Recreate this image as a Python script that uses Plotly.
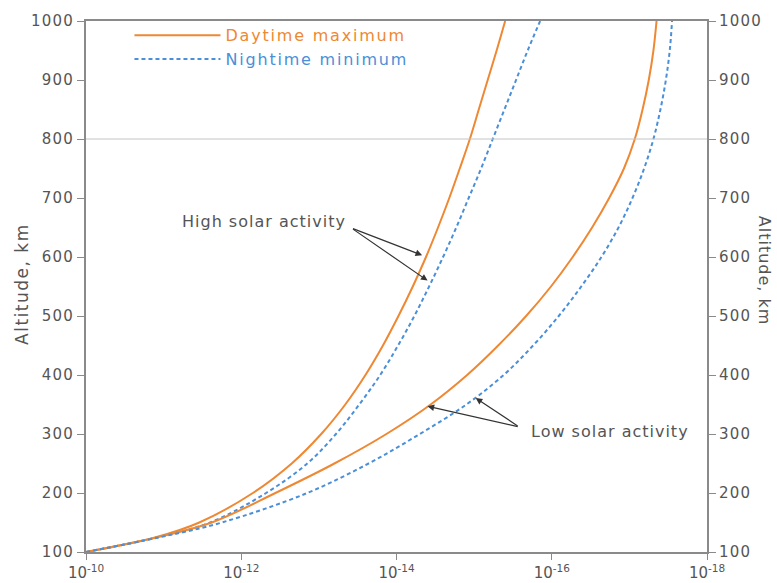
import plotly.graph_objects as go

altitude_km = [100, 125, 150, 200, 250, 300, 350, 400, 450, 500, 550, 600,
               650, 700, 750, 800, 850, 900, 950, 1000]
# log10 of density (x axis)
day_high = [-10.0, -10.90, -11.46, -12.15, -12.65, -13.03, -13.34, -13.60, -13.825, -14.025,
            -14.21, -14.38, -14.535, -14.68, -14.815, -14.945, -15.06, -15.175, -15.29, -15.40]
night_high = [-10.0, -10.92, -11.60, -12.32, -12.85, -13.22, -13.52, -13.79, -14.02, -14.23,
              -14.42, -14.60, -14.77, -14.93, -15.09, -15.24, -15.39, -15.54, -15.69, -15.85]
day_low = [-10.0, -10.92, -11.62, -12.44, -13.20, -13.87, -14.44, -14.91, -15.31, -15.67,
           -15.99, -16.27, -16.52, -16.74, -16.93, -17.07, -17.17, -17.25, -17.31, -17.35]
night_low = [-10.0, -10.95, -11.75, -12.85, -13.64, -14.30, -14.90, -15.38, -15.76, -16.09,
             -16.38, -16.64, -16.86, -17.04, -17.19, -17.31, -17.40, -17.47, -17.52, -17.55]

x_tick_exps = [-10, -12, -14, -16, -18]
y_ticks = [100, 200, 300, 400, 500, 600, 700, 800, 900, 1000]

ORANGE = "#EE8833"
BLUE = "#4A8FD8"
GRAY = "#8a8a8a"
TXT = "#555555"
FONT = "DejaVu Sans"


def dens(vals):
    return [10 ** v for v in vals]


def spaced(text, sp, color=None):
    style = f"letter-spacing:{sp}px"
    if color:
        style = f"color:{color};" + style
    return f'<span style="{style}">{text}</span>'


fig = go.Figure()
fig.add_trace(go.Scatter(x=dens(day_high), y=altitude_km, mode="lines", line_shape="spline",
                         line=dict(color=ORANGE, width=2),
                         name=spaced("Daytime maximum", 1.8, ORANGE),
                         legendgroup="day", showlegend=True))
fig.add_trace(go.Scatter(x=dens(night_high), y=altitude_km, mode="lines", line_shape="spline",
                         line=dict(color=BLUE, width=2, dash="4px,3px"),
                         name=spaced("Nightime minimum", 1.8, BLUE),
                         legendgroup="night", showlegend=True))
fig.add_trace(go.Scatter(x=dens(day_low), y=altitude_km, mode="lines", line_shape="spline",
                         line=dict(color=ORANGE, width=2), legendgroup="day", showlegend=False))
fig.add_trace(go.Scatter(x=dens(night_low), y=altitude_km, mode="lines", line_shape="spline",
                         line=dict(color=BLUE, width=2, dash="4px,3px"), legendgroup="night",
                         showlegend=False))
# invisible trace to anchor right axis
fig.add_trace(go.Scatter(x=dens(day_high), y=altitude_km, yaxis="y2", mode="lines",
                         line=dict(width=0), opacity=0, showlegend=False, hoverinfo="skip"))

fig.add_shape(type="line", xref="paper", yref="y", x0=0, x1=1, y0=800, y1=800,
              line=dict(color="#c4c4c4", width=1))

ann = []
arrow_common = dict(xref="x", yref="y", axref="x", ayref="y", text="", showarrow=True,
                    arrowhead=2, arrowsize=1.1, arrowwidth=1.2, arrowcolor="#333333")
# high solar activity
ann.append(dict(x=-14.33, y=603, ax=-13.42, ay=649, **arrow_common))
ann.append(dict(x=-14.40, y=560, ax=-13.42, ay=649, **arrow_common))
ann.append(dict(x=-13.37, y=660, xref="x", yref="y", text=spaced("High solar activity", 1),
                showarrow=False, xanchor="right", yanchor="middle",
                font=dict(family=FONT, size=16, color=TXT)))
# low solar activity
ann.append(dict(x=-14.40, y=347, ax=-15.58, ay=312, **arrow_common))
ann.append(dict(x=-15.02, y=361, ax=-15.58, ay=312, **arrow_common))
ann.append(dict(x=-15.71, y=304, xref="x", yref="y", text=spaced("Low solar activity", 1),
                showarrow=False, xanchor="left", yanchor="middle",
                font=dict(family=FONT, size=16, color=TXT)))
# axis titles
ann.append(dict(x=-0.103, y=0.505, xref="paper", yref="paper", text=spaced("Altitude, km", 1.5),
                showarrow=False, textangle=-90, xanchor="center", yanchor="middle",
                font=dict(family=FONT, size=17, color=TXT)))
ann.append(dict(x=1.093, y=0.53, xref="paper", yref="paper", text=spaced("Altitude, km", 1),
                showarrow=False, textangle=90, xanchor="center", yanchor="middle",
                font=dict(family=FONT, size=16, color=TXT)))

y_ticktext = [spaced(str(v), 1.2) for v in y_ticks]

fig.update_layout(
    width=777, height=583,
    margin=dict(l=86, r=70, t=21, b=31),
    paper_bgcolor="white", plot_bgcolor="white",
    font=dict(family=FONT, size=15, color=TXT),
    annotations=ann,
    legend=dict(x=0.07, y=1.005, xanchor="left", yanchor="top", bgcolor="rgba(0,0,0,0)",
                itemwidth=86, font=dict(family=FONT, size=16), tracegroupgap=0),
    xaxis=dict(type="log", range=[-10, -18], tickvals=[10 ** e for e in x_tick_exps],
               ticktext=[f"10<sup>{e}</sup>" for e in x_tick_exps], automargin=False,
               showgrid=False, zeroline=False, showline=True, linecolor=GRAY, linewidth=2,
               mirror=True, ticks="outside", ticklen=6, tickcolor=GRAY,
               tickfont=dict(family=FONT, size=15, color=TXT)),
    yaxis=dict(range=[100, 1000], tickvals=y_ticks, ticktext=y_ticktext, showgrid=False,
               automargin=False,
               zeroline=False, showline=True, linecolor=GRAY, linewidth=2, mirror=True,
               ticks="outside", ticklen=7, tickcolor=GRAY,
               tickfont=dict(family=FONT, size=15, color=TXT)),
    yaxis2=dict(range=[100, 1000], tickvals=y_ticks, ticktext=y_ticktext, overlaying="y",
                automargin=False,
                side="right", showgrid=False, zeroline=False, showline=True, linecolor=GRAY,
                linewidth=2, ticks="outside", ticklen=7, tickcolor=GRAY,
                tickfont=dict(family=FONT, size=15, color=TXT)),
)

fig.write_html("out.html")
